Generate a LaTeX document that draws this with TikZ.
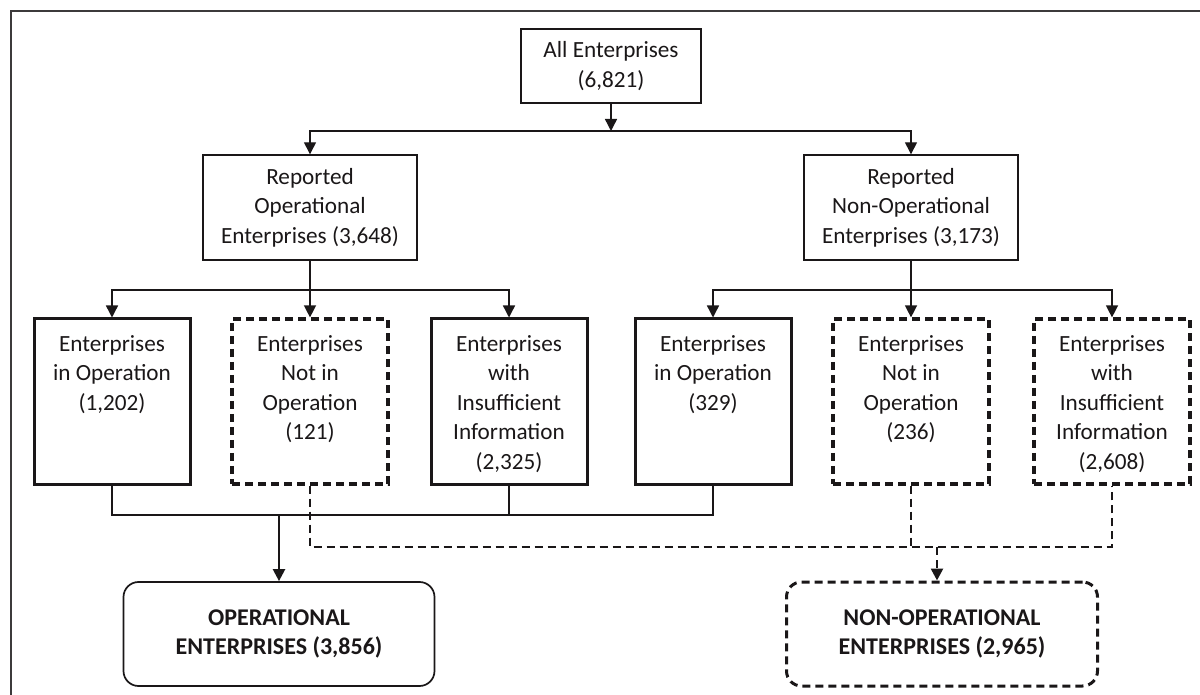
\documentclass[tikz,border=0pt]{standalone}
\usepackage{fontspec}
\setmainfont{Carlito}
\usetikzlibrary{arrows.meta,positioning}
\definecolor{ink}{HTML}{1A1718}

\begin{document}
\begin{tikzpicture}[x=0.5pt, y=-0.5pt,
        every node/.style={font=\fontsize{11.6}{14.75}\selectfont, text=ink, align=center},
        plain/.style={draw=ink, line width=0.7pt},
        keep/.style={draw=ink, line width=1.5pt, minimum width=78pt, minimum height=82.5pt},
        drop/.style={draw=ink, line width=1.6pt, dash pattern=on 4pt off 2.5pt,
                     minimum width=78pt, minimum height=82.5pt},
        boxtext/.style={anchor=north, inner sep=0pt, yshift=-8.8pt},
        total/.style={draw=ink, line width=0.85pt, rounded corners=7.5pt, minimum width=155.5pt,
                      minimum height=52pt, font=\fontsize{12}{14.5}\selectfont\bfseries},
        link/.style={draw=ink, line width=0.7pt},
        solidlink/.style={draw=ink, line width=1.1pt},
        dashlink/.style={draw=ink, line width=1.3pt, dash pattern=on 4pt off 2.5pt},
        tip/.style={-{Triangle[length=6pt,width=6pt]}}]

    \clip (0,0) rectangle (1200,695);
    \draw[ink!85, line width=0.8pt] (11,11) rectangle (1230,730);

    % top levels
    \node[plain, minimum width=90pt, minimum height=37pt] (all) at (611,66) {All Enterprises\\(6,821)};
    \node[plain, minimum width=107pt, minimum height=52.5pt] (repop) at (310,207.5)
        {Reported\\Operational\\Enterprises (3,648)};
    \node[plain, minimum width=107pt, minimum height=52.5pt] (repnon) at (911,207.5)
        {Reported\\Non-Operational\\Enterprises (3,173)};

    % status boxes
    \node[keep, label={[boxtext]north:{Enterprises\\in Operation\\(1,202)}}] (inop1) at (112,401.5) {};
    \node[drop, label={[boxtext]north:{Enterprises\\Not in\\Operation\\(121)}}] (notop1) at (310,401.5) {};
    \node[keep, label={[boxtext]north:{Enterprises\\with\\Insufficient\\Information\\(2,325)}}] (insuf1) at (509,401.5) {};
    \node[keep, label={[boxtext]north:{Enterprises\\in Operation\\(329)}}] (inop2) at (713,401.5) {};
    \node[drop, label={[boxtext]north:{Enterprises\\Not in\\Operation\\(236)}}] (notop2) at (911,401.5) {};
    \node[drop, label={[boxtext]north:{Enterprises\\with\\Insufficient\\Information\\(2,608)}}] (insuf2) at (1112,401.5) {};

    % totals
    \node[total] (opall) at (279,634) {OPERATIONAL\\ENTERPRISES (3,856)};
    \node[total, line width=1.5pt, dash pattern=on 4pt off 2.5pt] (nonop) at (942,634)
        {NON-OPERATIONAL\\ENTERPRISES (2,965)};

    % connectors
    \coordinate (split) at (611,131);
    \draw[link, tip] (all) -- (split);
    \draw[link, tip] (split) -| (repop);
    \draw[link, tip] (split) -| (repnon);

    \coordinate (fork1) at (310,290);
    \draw[link, tip] (repop) -- (notop1);
    \draw[link, tip] (fork1) -| (inop1);
    \draw[link, tip] (fork1) -| (insuf1);

    \coordinate (fork2) at (911,290);
    \draw[link, tip] (repnon) -- (notop2);
    \draw[link, tip] (fork2) -| (inop2);
    \draw[link, tip] (fork2) -| (insuf2);

    \coordinate (opjoin) at (279,515);
    \draw[solidlink] (inop1.south) |- (opjoin) -| (inop2.south);
    \draw[solidlink] (insuf1.south) -- (insuf1.south |- opjoin);
    \draw[solidlink, tip] (opjoin) -- (opall);

    \coordinate (nonjoin) at (937,547);
    \draw[dashlink] (notop1.south) |- (nonjoin) -| (insuf2.south);
    \draw[dashlink] (notop2.south) -- (notop2.south |- nonjoin);
    \draw[dashlink, tip] (nonjoin) -- (nonjoin |- nonop.north);

\end{tikzpicture}
\end{document}
